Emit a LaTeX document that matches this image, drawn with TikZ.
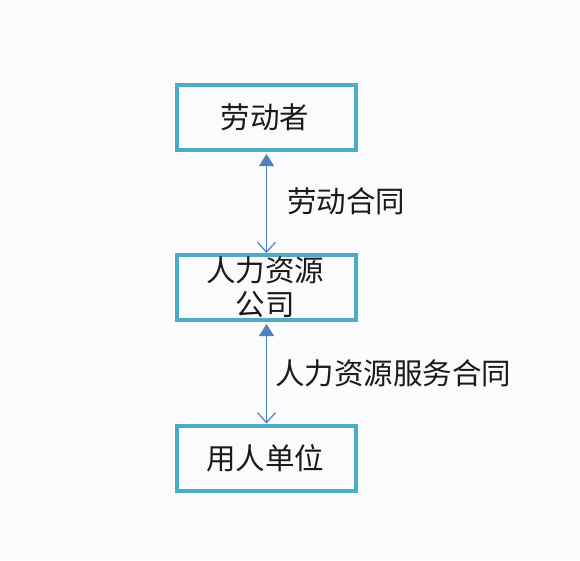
\documentclass[tikz,border=0pt]{standalone}
\usepackage{fontspec}
\newfontfamily\cjk{Noto Sans CJK SC}
\usetikzlibrary{arrows.meta}
\definecolor{boxc}{HTML}{4BACC6}
\definecolor{arrc}{HTML}{4F81BD}
\definecolor{txtc}{HTML}{1A1A1A}
\definecolor{bgc}{HTML}{FBFBFD}
\tikzset{
  boxnode/.style={draw=boxc, line width=4pt, minimum width=179pt, minimum height=65pt, inner sep=0pt},
  txt/.style={font=\cjk\fontsize{29.5}{34}\selectfont, text=txtc, inner sep=0pt, align=center},
  arr/.style={draw=arrc, line width=1.2pt, {Triangle[width=15pt,length=12pt]}-{Straight Barb[width=18pt,length=10pt]}}
}
\begin{document}
\begin{tikzpicture}[x=1pt,y=-1pt]
\fill[bgc] (0,0) rectangle (580,560);
\useasboundingbox (0,0) rectangle (580,560);
\node[boxnode] (top) at (266.5,117.5) {};
\node[boxnode] (mid) at (266.5,287.5) {};
\node[boxnode] (bot) at (266.5,458) {};
\node[txt] (ttop) at (265,117.5) {劳动者};
\node[txt] (tmid) at (265,287.5) {人力资源\\公司};
\node[txt] (tbot) at (265,458) {用人单位};
\draw[arr] ([yshift=-2pt]top.south) -- (mid.north);
\draw[arr] ([yshift=-2pt]mid.south) -- (bot.north);
\node[txt] (l1) at (346,201) {劳动合同};
\node[txt] (l2) at (393,373) {人力资源服务合同};
\end{tikzpicture}
\end{document}
